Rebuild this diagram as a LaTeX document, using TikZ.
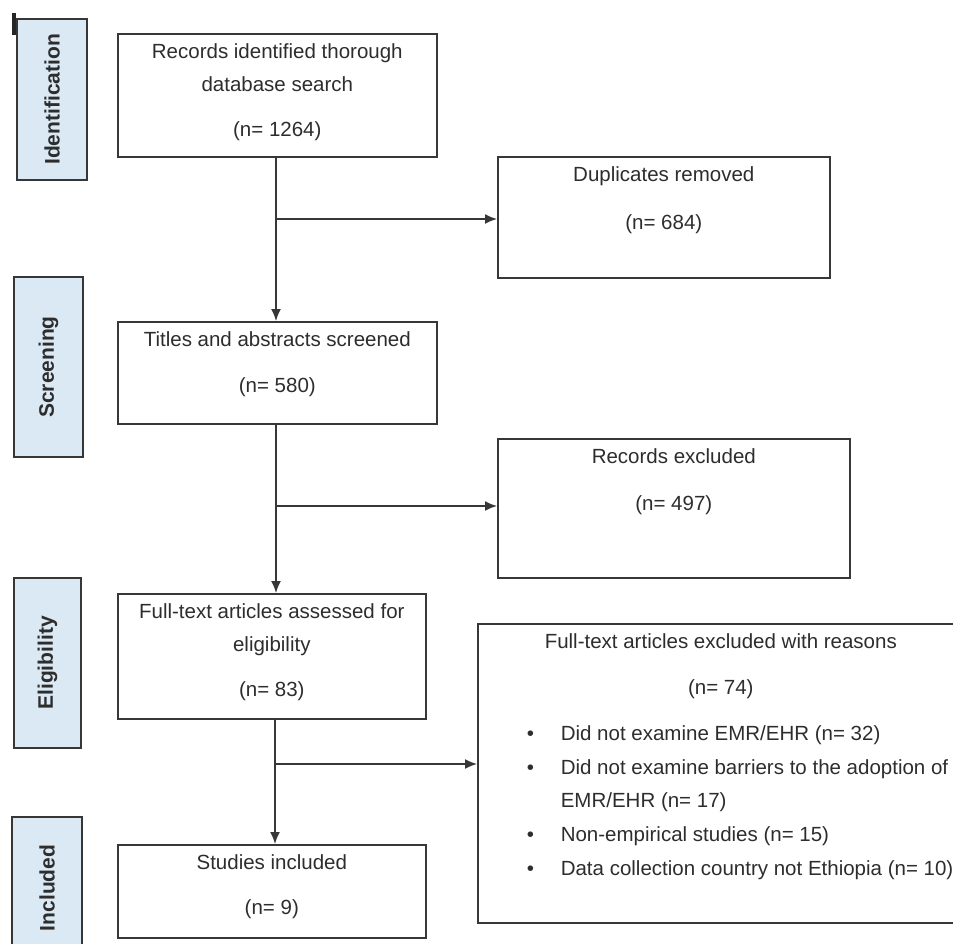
\documentclass[tikz,border=0pt]{standalone}
\usepackage{fontspec}
\setmainfont{Liberation Sans}
\usetikzlibrary{arrows.meta}
\usetikzlibrary{positioning}
\definecolor{phaseblue}{RGB}{219,233,245}
\definecolor{linegray}{RGB}{55,55,55}
\definecolor{textgray}{RGB}{45,45,45}
\newcommand{\topstrut}{\rule{0pt}{25pt}}
\newcommand{\boxtext}[3]{\parbox[c][#2][t]{#1}{\centering\topstrut #3}}
\newcommand{\bulletitem}{\makebox[34pt][l]{\textbullet}}
\tikzset{
  flowbox/.style={draw=linegray, line width=1.6pt, inner sep=0pt,
    anchor=north west, text=textgray,
    font=\fontsize{20.5}{33}\selectfont},
  phase/.style={draw=linegray, fill=phaseblue, line width=1.6pt,
    rotate=90, inner sep=0pt, text=textgray,
    font=\fontsize{21}{25}\selectfont\bfseries},
  arrow/.style={-{Latex[length=12pt,width=10pt]}, line width=1.6pt, draw=linegray}
}

\begin{document}
\begin{tikzpicture}[x=1pt, y=-1pt]
    \useasboundingbox (0,0) rectangle (953,944);
    \draw[line width=3.5pt, black!85] (14,13) -- (14,35);

    % phases on the left
    \node[phase, minimum width=161pt, minimum height=70pt] (ident) at (52,99.5) {Identification};
    \node[phase, minimum width=180pt, minimum height=69pt] (screen) at (48.5,367) {Screening};
    \node[phase, minimum width=170pt, minimum height=67pt] (elig) at (47.5,663) {Eligibility};
    \node[phase, minimum width=142pt, minimum height=70pt] (incl) at (47,888) {Included};

    % main column
    \node[flowbox] (rec) at (117,33)
          {\boxtext{319pt}{123pt}{Records identified thorough\\database search\\[12pt](n= 1264)}};
    \node[flowbox] (scr) at (117,321)
          {\boxtext{319pt}{102pt}{Titles and abstracts screened\\[13pt](n= 580)}};
    \node[flowbox] (full) at (117,593)
          {\boxtext{308pt}{125pt}{Full-text articles assessed for\\eligibility\\[12pt](n= 83)}};
    \node[flowbox] (inc) at (117,844)
          {\boxtext{308pt}{93pt}{Studies included\\[12pt](n= 9)}};

    % excluded column
    \node[flowbox] (dup) at (497,156)
          {\boxtext{332pt}{121pt}{Duplicates removed\\[15pt](n= 684)}};
    \node[flowbox] (excl) at (497,438)
          {\boxtext{352pt}{139pt}{Records excluded\\[14pt](n= 497)}};
    \node[flowbox] (fexcl) at (477,623)
          {\boxtext{486pt}{299pt}{Full-text articles excluded with reasons\\[13pt](n= 74)\par
           \vspace{13pt}\raggedright\leftskip=49pt
           \bulletitem Did not examine EMR/EHR (n= 32)\\[1pt]
           \bulletitem Did not examine barriers to the adoption of\\
           \hspace*{34pt}EMR/EHR (n= 17)\\[1pt]
           \bulletitem Non-empirical studies (n= 15)\\[1pt]
           \bulletitem Data collection country not Ethiopia (n= 10)}};

    \coordinate (j1) at (276,219);
    \coordinate (j2) at (276,506);
    \coordinate (j3) at (275,764);

    \draw[arrow] (rec.south -| j1) -- (scr.north -| j1);
    \draw[arrow] (scr.south -| j2) -- (full.north -| j2);
    \draw[arrow] (full.south -| j3) -- (inc.north -| j3);
    \draw[arrow] (j1) -- (j1 -| dup.west);
    \draw[arrow] (j2) -- (j2 -| excl.west);
    \draw[arrow] (j3) -- (j3 -| fexcl.west);
\end{tikzpicture}
\end{document}
